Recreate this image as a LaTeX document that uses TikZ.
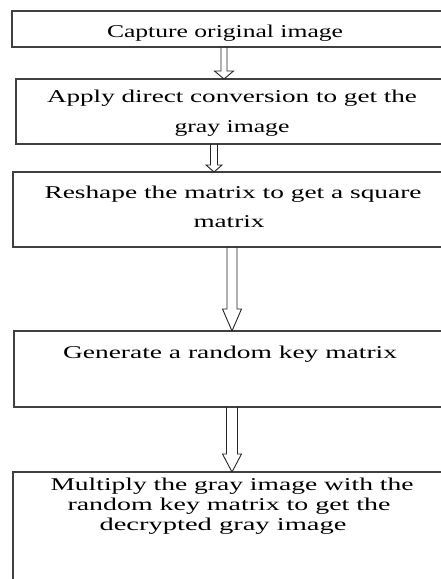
\documentclass[tikz,border=0pt]{standalone}
\usepackage{fontspec}
\usepackage{graphicx}
\setmainfont{Liberation Serif}
\usetikzlibrary{calc}
\newlength\fitlen
\newcommand\fitw[2]{\settowidth{\fitlen}{#2}\pgfmathsetmacro\fitfac{#1/\fitlen}\scalebox{\fitfac}[1]{#2}}
\newcommand\blockarrow[6]{%
  \draw[arrowline] let \p1=(#1), \p2=(#2) in
    ({#3pt-#4pt},\y1) -- ({#3pt-#4pt},{\y2+#6pt}) -- ({#3pt-#5pt},{\y2+#6pt})
    -- ({#3pt},\y2) -- ({#3pt+#5pt},{\y2+#6pt}) -- ({#3pt+#4pt},{\y2+#6pt})
    -- ({#3pt+#4pt},\y1);}
\tikzset{
  box/.style={draw=black!75, line width=1.1pt, rectangle, anchor=north west, inner sep=0pt, outer sep=0pt},
  txt/.style={anchor=base, inner sep=0pt, font=\fontsize{18}{20}\selectfont, text=black},
  arrowline/.style={draw=black!85, line width=0.9pt, line join=miter}
}
\begin{document}
\begin{tikzpicture}[x=1pt,y=-1pt]
\useasboundingbox (0,0) rectangle (441,579);
\clip (0,0) rectangle (441,579);
\fill[white] (0,0) rectangle (441,579);
% boxes
\node[box, minimum width=438pt, minimum height=36pt] (b1) at (12,11) {};
\node[box, minimum width=434pt, minimum height=65pt] (b2) at (16,79) {};
\node[box, minimum width=437pt, minimum height=75pt] (b3) at (13,172) {};
\node[box, minimum width=436pt, minimum height=76pt] (b4) at (14,331) {};
\node[box, minimum width=437pt, minimum height=130pt] (b5) at (13,472) {};
% texts
\node[txt] (t1) at (225,37) {\fitw{236}{Capture original image}};
\node[txt] (t2a) at (232,102) {\fitw{370}{Apply direct conversion to get the}};
\node[txt] (t2b) at (232,132) {\fitw{115}{gray image}};
\node[txt] (t3a) at (233,198) {\fitw{377}{Reshape the matrix to get a square}};
\node[txt] (t3b) at (229,227) {\fitw{71}{matrix}};
\node[txt] (t4) at (230,358) {\fitw{334}{Generate a random key matrix}};
\node[txt] (t5a) at (232,490) {\fitw{363}{Multiply the gray image with the}};
\node[txt] (t5b) at (229,510) {\fitw{323}{random key matrix to get the}};
\node[txt] (t5c) at (223,530) {\fitw{247}{decrypted gray image}};
% arrows
\blockarrow{b1.south}{b2.north}{224}{3}{9.5}{8}
\blockarrow{b2.south}{b3.north}{214}{3.5}{8}{7}
\blockarrow{b3.south}{b4.north}{232}{5}{9.5}{22}
\blockarrow{b4.south}{b5.north}{232}{5.5}{9.5}{18}
\end{tikzpicture}
\end{document}
